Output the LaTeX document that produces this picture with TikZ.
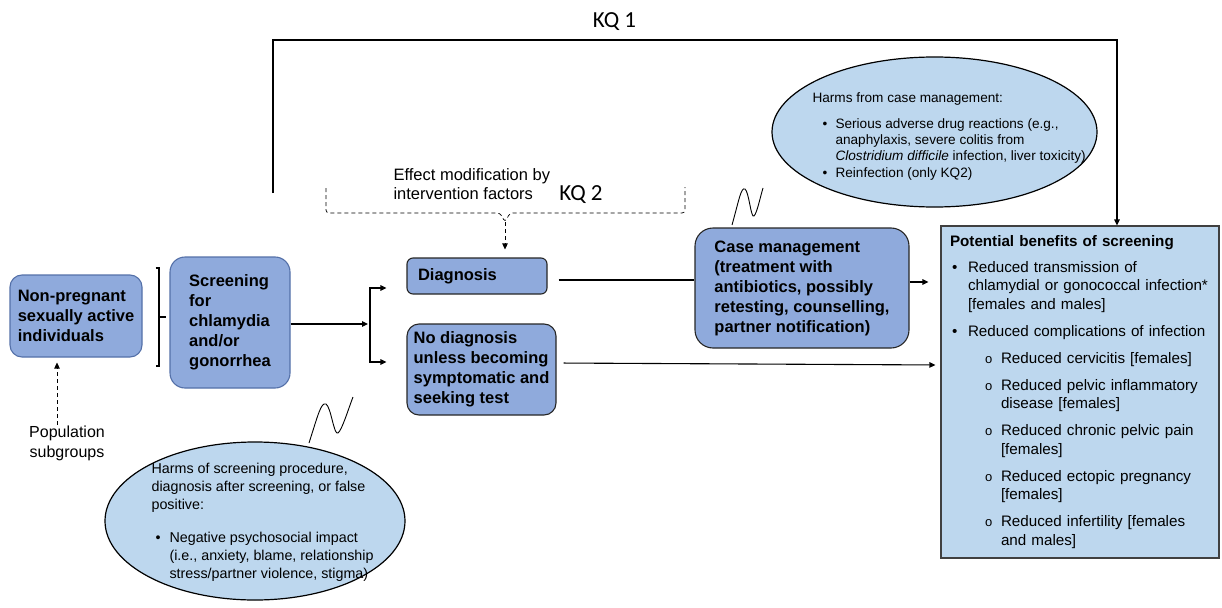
\documentclass[tikz,border=0pt]{standalone}
\usepackage{fontspec}
\setmainfont{Liberation Sans}
\newfontfamily\kqfont{Carlito}
\usetikzlibrary{shapes.geometric,arrows.meta}

\definecolor{boxblue}{RGB}{143,170,220}
\definecolor{edgeblue}{RGB}{84,112,168}
\definecolor{paleblue}{RGB}{189,215,238}

\newcommand{\boxfont}{\fontsize{16.5}{20}\selectfont\bfseries}
\newcommand{\benefitfont}{\fontsize{15.2}{18.5}\selectfont}
\newcommand{\harmfont}{\fontsize{13.6}{16.3}\selectfont}
\newcommand{\bulletmark}{\makebox[18pt][l]{\hspace{2pt}\textbullet}}
\newcommand{\circlemark}{\hspace*{35pt}\makebox[16pt][l]{\fontsize{13}{13}\selectfont o}}

\begin{document}
\begin{tikzpicture}[x=1pt, y=-1pt, line width=1.1pt,
    >={Triangle[length=6pt,width=5.5pt]},
    flowbox/.style={draw=black!85, fill=boxblue, line width=1.1pt, align=left, inner sep=0pt, font=\boxfont},
    harmoval/.style={ellipse, draw=black, fill=paleblue, line width=1.2pt, inner sep=0pt},
    harmtext/.style={align=left, inner sep=0pt, anchor=north west, font=\harmfont},
    kqlabel/.style={inner sep=0pt, font=\kqfont\fontsize{23}{23}\selectfont},
    dashline/.style={line width=0.7pt, dash pattern=on 4pt off 3pt}]
    \useasboundingbox (0,0) rectangle (1222,607);

    % Boxes of the main pathway
    \node[flowbox, draw=edgeblue, rounded corners=12pt, minimum width=132pt, minimum height=82pt] (nonpreg) at (76,316) {Non-pregnant\\sexually active\\individuals};
    \node[flowbox, draw=edgeblue, rounded corners=15pt, minimum width=120pt, minimum height=131pt] (screen) at (230,322.5) {Screening\\for\\chlamydia\\and/or\\gonorrhea};
    \node[flowbox, rounded corners=6pt, minimum width=140pt, minimum height=36pt, text width=118pt, inner xsep=11pt] (diag) at (477,276) {Diagnosis};
    \node[flowbox, rounded corners=12pt, minimum width=149pt, minimum height=91pt] (nodiag) at (481.5,369.5) {No diagnosis\\unless becoming\\symptomatic and\\seeking test};
    \node[flowbox, rounded corners=18pt, minimum width=214pt, minimum height=120pt] (case) at (802,288) {Case management\\(treatment with\\antibiotics, possibly\\retesting, counselling,\\partner notification)};

    % Outcomes
    \node[draw=black!75, fill=paleblue, line width=1.1pt, minimum width=278pt, minimum height=332pt, text width=260pt, inner xsep=9pt, inner ysep=0pt, align=left, font=\benefitfont] (benefits) at (1080,392) {%
        \textbf{Potential benefits of screening}\\[7.5pt]
        \bulletmark Reduced transmission of\\
        \hspace*{18pt}chlamydial or gonococcal infection*\\
        \hspace*{18pt}[females and males]\\[8.5pt]
        \bulletmark Reduced complications of infection\\[8.5pt]
        \circlemark Reduced cervicitis [females]\\[8.5pt]
        \circlemark Reduced pelvic inflammatory\\
        \hspace*{51pt}disease [females]\\[8.5pt]
        \circlemark Reduced chronic pelvic pain\\
        \hspace*{51pt}[females]\\[8.5pt]
        \circlemark Reduced ectopic pregnancy\\
        \hspace*{51pt}[females]\\[8.5pt]
        \circlemark Reduced infertility [females\\
        \hspace*{51pt}and males]};

    % Harms
    \node[harmoval, minimum width=325pt, minimum height=150pt] (harmcase) at (934.5,132) {};
    \node[harmtext] (harmcasetext) at (812,92) {Harms from case management:\\[9.7pt]
        \hspace*{10pt}\makebox[13pt][l]{\textbullet}Serious adverse drug reactions (e.g.,\\
        \hspace*{23pt}anaphylaxis, severe colitis from\\
        \hspace*{23pt}\textit{Clostridium difficile} infection, liver toxicity)\\
        \hspace*{10pt}\makebox[13pt][l]{\textbullet}Reinfection (only KQ2)};
    \node[harmoval, minimum width=300pt, minimum height=158pt] (harmscreen) at (255,521) {};
    \node[harmtext, font=\fontsize{14.3}{18}\selectfont] (harmscreentext) at (151,463) {Harms of screening procedure,\\
        diagnosis after screening, or false\\
        positive:\\[14.5pt]
        \hspace*{4pt}\makebox[14pt][l]{\textbullet}Negative psychosocial impact\\
        \hspace*{18pt}(i.e., anxiety, blame, relationship\\
        \hspace*{18pt}stress/partner violence, stigma)};

    % Labels
    \node[align=center, inner sep=0pt, font=\fontsize{16}{20}\selectfont] (pop) at (67,443) {Population\\subgroups};
    \node[align=left, anchor=west, inner sep=0pt, font=\fontsize{16.5}{18.5}\selectfont] (effect) at (393,184) {Effect modification by\\intervention factors};
    \node[kqlabel] (kq1) at (614.5,22) {KQ 1};
    \node[kqlabel] (kq2) at (581,195) {KQ 2};

    % Helper points
    \coordinate (kq1start) at (273,193);
    \coordinate (kq1turn) at (1117,40);
    \coordinate (fork) at (370,324);
    \coordinate (brtop) at (159,268);
    \coordinate (brmid) at (159,317);
    \coordinate (brbot) at (159,366);
    \coordinate (kq2left) at (326,188);
    \coordinate (kq2right) at (685,187);
    \coordinate (kq2mid) at (505,213);
    \coordinate (kq2tip) at (505,222);

    % Connectors
    \draw[->] (kq1start) |- (kq1turn) -- (kq1turn |- benefits.north);
    \draw ([xshift=-3.5pt]brtop) -- (brtop) -- (brbot) -- ([xshift=-3.5pt]brbot);
    \draw[shorten >=3pt] (brmid) -- (brmid -| screen.west);
    \draw[->, shorten >=2pt] ([yshift=-1.5pt]screen.east) -- (fork);
    \draw[->, shorten >=20pt] (fork) |- ([yshift=-12pt]diag.west);
    \draw[->, shorten >=20pt] (fork) |- ([yshift=7.5pt]nodiag.west);
    \draw[shorten <=11pt] ([yshift=-4pt]diag.east) -- ([yshift=-4pt]diag.east -| case.west);
    \draw[->, shorten >=12pt] ([yshift=6pt]case.east) -- ([yshift=6pt]case.east -| benefits.west);
    \draw[->, shorten <=7pt, shorten >=5pt] ([yshift=6.5pt]nodiag.east) -- ([yshift=27pt]benefits.west);
    \draw[->, dashline, shorten >=5pt] ([xshift=-10pt]pop.north) -- ([xshift=-10pt]pop.north |- nonpreg.south);

    % Dashed bracket of KQ 2
    \draw[dashline, rounded corners=3pt] (kq2left) |- ([xshift=-5pt]kq2mid) -- (kq2tip) -- ([xshift=5pt]kq2mid) -| (kq2right);
    \draw[->, dashline, shorten >=8pt] (kq2tip) -- (kq2tip |- diag.north);

    % Squiggles
    \draw[line width=0.9pt] (309,443) .. controls (318,415) and (321,402) .. (326,404) .. controls (331,407) and (334,436) .. (338,433) .. controls (342,430) and (348,410) .. (353,397);
    \draw[line width=0.9pt] (732,225) .. controls (739,200) and (741,187) .. (745,189) .. controls (749,192) and (751,219) .. (754,216) .. controls (757,213) and (760,198) .. (763,188);
\end{tikzpicture}
\end{document}
